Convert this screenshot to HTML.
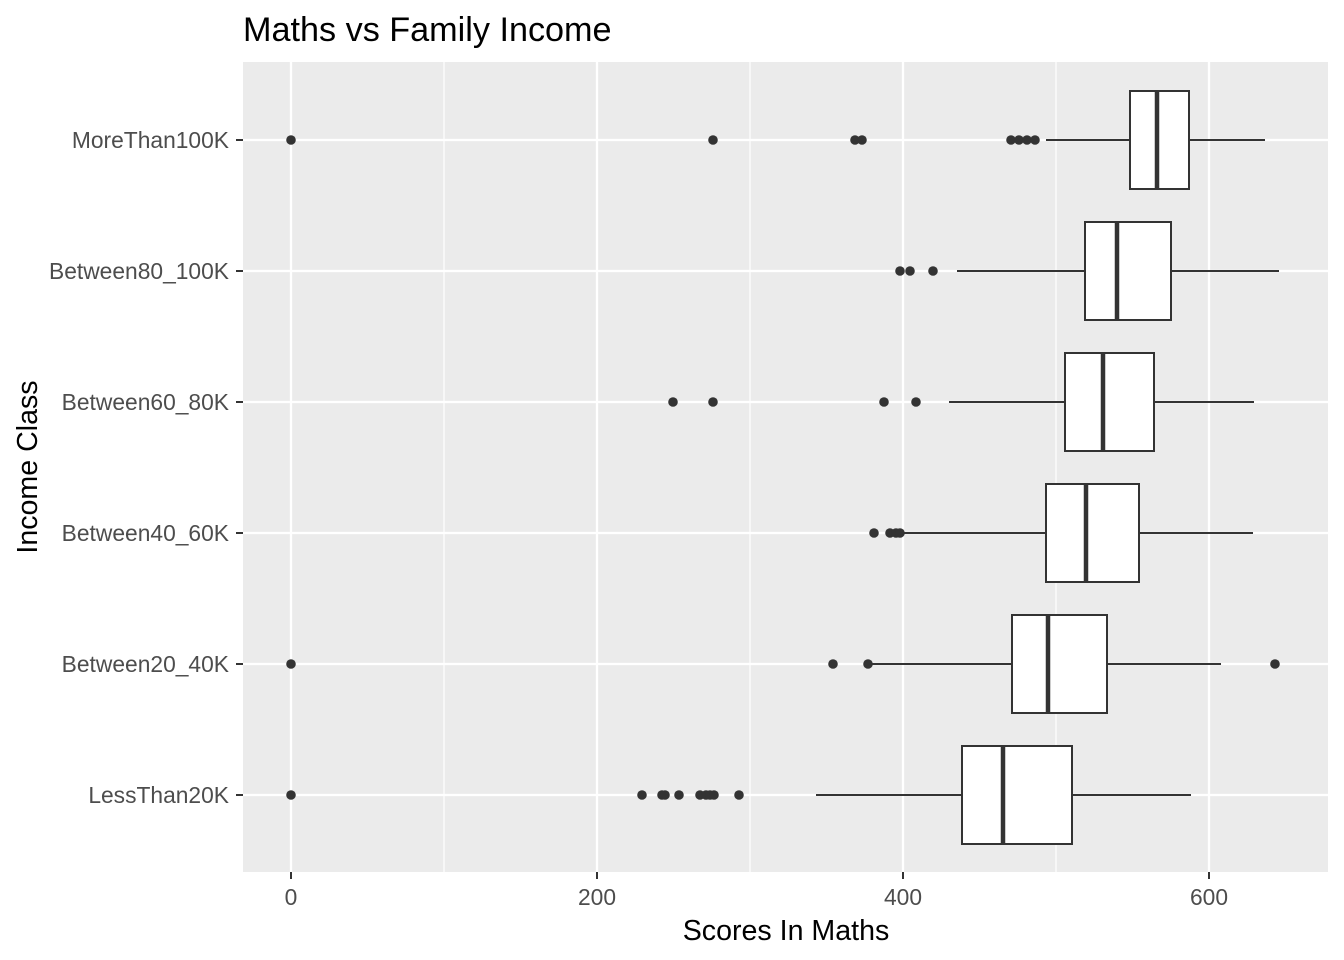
<!DOCTYPE html>
<html><head><style>body{margin:0;background:#fff}svg{display:block}text{font-family:"Liberation Sans",Arial,sans-serif}</style></head><body>
<svg width="1344" height="960" xmlns="http://www.w3.org/2000/svg">
<rect width="1344" height="960" fill="#fff"/>
<rect x="243" y="62" width="1085" height="810" fill="#ebebeb"/>
<g stroke="#fff" stroke-width="1.2">
<line x1="444" y1="62" x2="444" y2="872"/><line x1="750" y1="62" x2="750" y2="872"/><line x1="1056" y1="62" x2="1056" y2="872"/>
</g>
<g stroke="#fff" stroke-width="2.3">
<line x1="291" y1="62" x2="291" y2="872"/><line x1="597" y1="62" x2="597" y2="872"/><line x1="903" y1="62" x2="903" y2="872"/><line x1="1209" y1="62" x2="1209" y2="872"/>
<line x1="243" y1="140" x2="1328" y2="140"/><line x1="243" y1="271" x2="1328" y2="271"/><line x1="243" y1="402" x2="1328" y2="402"/><line x1="243" y1="533" x2="1328" y2="533"/><line x1="243" y1="664" x2="1328" y2="664"/><line x1="243" y1="795" x2="1328" y2="795"/>
</g>
<g stroke="#333" stroke-width="2" fill="#fff">
<line x1="1046" y1="140" x2="1265" y2="140"/><rect x="1130" y="91" width="59" height="98"/><line x1="1157" y1="91" x2="1157" y2="189" stroke-width="4.5"/>
<line x1="957" y1="271" x2="1279" y2="271"/><rect x="1085" y="222" width="86" height="98"/><line x1="1117" y1="222" x2="1117" y2="320" stroke-width="4.5"/>
<line x1="949" y1="402" x2="1254" y2="402"/><rect x="1065" y="353" width="89" height="98"/><line x1="1103" y1="353" x2="1103" y2="451" stroke-width="4.5"/>
<line x1="900" y1="533" x2="1253" y2="533"/><rect x="1046" y="484" width="93" height="98"/><line x1="1086" y1="484" x2="1086" y2="582" stroke-width="4.5"/>
<line x1="868" y1="664" x2="1221" y2="664"/><rect x="1012" y="615" width="95" height="98"/><line x1="1048" y1="615" x2="1048" y2="713" stroke-width="4.5"/>
<line x1="816" y1="795" x2="1191" y2="795"/><rect x="962" y="746" width="110" height="98"/><line x1="1003" y1="746" x2="1003" y2="844" stroke-width="4.5"/>
</g>
<g fill="#333">
<circle cx="291" cy="140" r="4.8"/><circle cx="713" cy="140" r="4.8"/><circle cx="855" cy="140" r="4.8"/><circle cx="862" cy="140" r="4.8"/><circle cx="1011" cy="140" r="4.8"/><circle cx="1019" cy="140" r="4.8"/><circle cx="1027" cy="140" r="4.8"/><circle cx="1035" cy="140" r="4.8"/>
<circle cx="900" cy="271" r="4.8"/><circle cx="910" cy="271" r="4.8"/><circle cx="933" cy="271" r="4.8"/>
<circle cx="673" cy="402" r="4.8"/><circle cx="713" cy="402" r="4.8"/><circle cx="884" cy="402" r="4.8"/><circle cx="916" cy="402" r="4.8"/>
<circle cx="874" cy="533" r="4.8"/><circle cx="890" cy="533" r="4.8"/><circle cx="896" cy="533" r="4.8"/><circle cx="900" cy="533" r="4.8"/>
<circle cx="291" cy="664" r="4.8"/><circle cx="833" cy="664" r="4.8"/><circle cx="868" cy="664" r="4.8"/><circle cx="1275" cy="664" r="4.8"/>
<circle cx="291" cy="795" r="4.8"/><circle cx="642" cy="795" r="4.8"/><circle cx="662" cy="795" r="4.8"/><circle cx="665" cy="795" r="4.8"/><circle cx="679" cy="795" r="4.8"/><circle cx="700" cy="795" r="4.8"/><circle cx="706" cy="795" r="4.8"/><circle cx="710" cy="795" r="4.8"/><circle cx="714" cy="795" r="4.8"/><circle cx="739" cy="795" r="4.8"/>
</g>
<g stroke="#333" stroke-width="2">
<line x1="236" y1="140" x2="243" y2="140"/><line x1="236" y1="271" x2="243" y2="271"/><line x1="236" y1="402" x2="243" y2="402"/><line x1="236" y1="533" x2="243" y2="533"/><line x1="236" y1="664" x2="243" y2="664"/><line x1="236" y1="795" x2="243" y2="795"/>
<line x1="291" y1="872" x2="291" y2="879"/><line x1="597" y1="872" x2="597" y2="879"/><line x1="903" y1="872" x2="903" y2="879"/><line x1="1209" y1="872" x2="1209" y2="879"/>
</g>
<g fill="#4d4d4d" font-size="22.8" text-anchor="end">
<text x="229" y="148">MoreThan100K</text><text x="229" y="279">Between80_100K</text><text x="229" y="410">Between60_80K</text><text x="229" y="541">Between40_60K</text><text x="229" y="672">Between20_40K</text><text x="229" y="803">LessThan20K</text>
</g>
<g fill="#4d4d4d" font-size="22.8" text-anchor="middle">
<text x="291" y="905">0</text><text x="597" y="905">200</text><text x="903" y="905">400</text><text x="1209" y="905">600</text>
</g>
<text x="786" y="940" font-size="28.6" text-anchor="middle" fill="#000">Scores In Maths</text>
<text transform="translate(37,467) rotate(-90)" font-size="28.6" text-anchor="middle" fill="#000">Income Class</text>
<text x="243" y="41" font-size="34.2" fill="#000">Maths vs Family Income</text>
</svg>
</body></html>
